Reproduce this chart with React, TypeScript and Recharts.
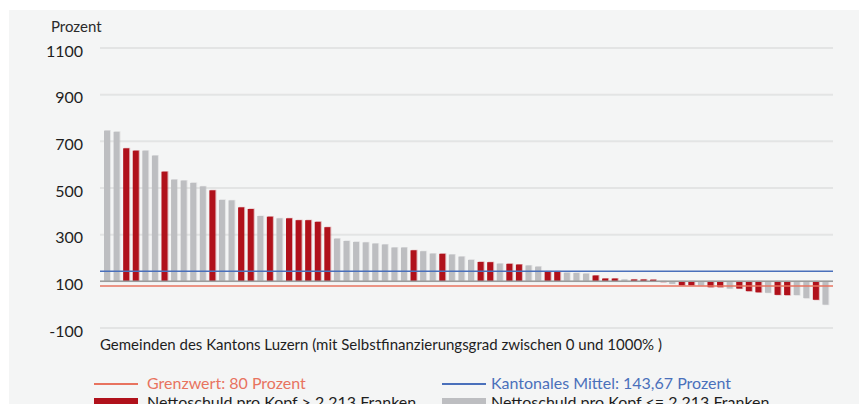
import React from 'react';
import { BarChart, Bar, Cell, XAxis, YAxis, CartesianGrid, ReferenceLine } from 'recharts';

// Selbstfinanzierungsgrad je Gemeinde (Prozent), absteigend sortiert
const values = [
  746, 741, 670, 660, 660, 639, 570, 536, 532, 522, 507, 490,
  449, 447, 417, 410, 380, 377, 370, 370, 362, 362, 355, 332,
  283, 273, 269, 267, 262, 258, 245, 245, 233, 229, 219, 218,
  215, 206, 192, 183, 182, 176, 175, 172, 168, 163, 143, 143,
  137, 136, 133, 125, 112, 112, 108, 108, 108, 107, 97, 89, 83, 83,
  82, 75, 75, 69, 69, 58, 53, 51, 42, 41, 41, 28, 21, 0,
];

// 1 = Nettoschuld pro Kopf > 2 213 Franken
const highDebt = [
  0, 0, 1, 1, 0, 0, 1, 0, 0, 0, 0, 1,
  0, 0, 1, 1, 0, 1, 0, 1, 1, 1, 1, 1,
  0, 0, 0, 0, 0, 0, 0, 0, 1, 0, 0, 1,
  0, 0, 0, 1, 1, 0, 1, 1, 0, 0, 1, 1,
  0, 0, 0, 1, 1, 1, 0, 1, 1, 1, 1, 0, 1, 1,
  0, 1, 1, 0, 1, 1, 1, 0, 1, 1, 0, 0, 1, 0,
];

const yTicks = [-100, 100, 300, 500, 700, 900, 1100];
const baseline = 100;
const grenzwert = 80;
const kantonsMittel = 143.67;

const RED = '#b0111b';
const GRAY = '#bdbec1';
const LINE_RED = '#e8735f';
const LINE_BLUE = '#4a70bb';
const FONT = 'Lato, "Open Sans", sans-serif';

const data = values.map((v, i) => ({
  name: `G${i + 1}`,
  value: v,
  high: highDebt[i] === 1,
}));

const BarShape = (props: any) => {
  const { x, y, width, height, fill } = props;
  if (width == null || height == null) return null;
  return (
    <g>
      <rect x={x + 1} y={y - 0.5} width={width} height={height + 1} fill={fill} opacity={0.3} />
      <rect x={x} y={y} width={width} height={height} fill={fill} />
    </g>
  );
};

const YTick = (props: any) => {
  const { y, payload } = props;
  return (
    <text x={83} y={y + 3} dy="0.35em" textAnchor="end" fontSize={16} fill="#1e1e1e" fontFamily={FONT}>
      {payload.value}
    </text>
  );
};

export default function App() {
  return (
    <div style={{ margin: -8, width: 867, height: 412, position: 'relative', overflow: 'hidden', background: '#fff', fontFamily: FONT }}>
      <div style={{ position: 'absolute', left: 9, top: 10, right: 0, bottom: 0, background: '#f4f5f5' }} />
      <div style={{ position: 'absolute', left: 51, top: 17, fontSize: 15, color: '#2a2a2a' }}>Prozent</div>

      <div style={{ position: 'absolute', left: 0, top: 0 }}>
        <BarChart width={867} height={412} data={data} margin={{ top: 48, right: 34, bottom: 84, left: 0 }} barSize={6}>
          <CartesianGrid horizontal vertical={false} stroke="#e3e4e4" strokeWidth={2} />
          <XAxis dataKey="name" hide padding={{ left: 2, right: 3 }} />
          <YAxis
            width={100}
            domain={[-100, 1100]}
            ticks={yTicks}
            axisLine={false}
            tickLine={false}
            tick={<YTick />}
            interval={0}
          />
          <ReferenceLine y={baseline} stroke="#9c9c9c" strokeWidth={1.5} />
          <Bar
            dataKey={(d: any) => [Math.min(baseline, d.value), Math.max(baseline, d.value)]}
            isAnimationActive={false}
            shape={<BarShape />}
          >
            {data.map((d) => (
              <Cell key={d.name} fill={d.high ? RED : GRAY} />
            ))}
          </Bar>
          <ReferenceLine y={kantonsMittel} stroke={LINE_BLUE} strokeWidth={1.5} />
          <ReferenceLine y={grenzwert} stroke={LINE_RED} strokeWidth={1.5} />
        </BarChart>
      </div>

      <div style={{ position: 'absolute', left: 100, top: 335, fontSize: 15, color: '#1e1e1e', whiteSpace: 'nowrap' }}>
        Gemeinden des Kantons Luzern (mit Selbstfinanzierungsgrad zwischen 0 und 1000% )
      </div>

      {/* Legende */}
      <div style={{ position: 'absolute', left: 94, top: 383, width: 44, height: 1.5, background: LINE_RED }} />
      <div style={{ position: 'absolute', left: 147, top: 373, fontSize: 16, lineHeight: '19px', color: LINE_RED, whiteSpace: 'nowrap' }}>
        Grenzwert: 80 Prozent
      </div>
      <div style={{ position: 'absolute', left: 442, top: 383, width: 44, height: 1.5, background: LINE_BLUE }} />
      <div style={{ position: 'absolute', left: 491, top: 373, fontSize: 16, lineHeight: '19px', color: LINE_BLUE, whiteSpace: 'nowrap' }}>
        Kantonales Mittel: 143,67 Prozent
      </div>
      <div style={{ position: 'absolute', left: 94, top: 398, width: 44, height: 11, background: RED }} />
      <div style={{ position: 'absolute', left: 147, top: 392, fontSize: 16, lineHeight: '19px', color: '#1e1e1e', whiteSpace: 'nowrap' }}>
        Nettoschuld pro Kopf &gt; 2 213 Franken
      </div>
      <div style={{ position: 'absolute', left: 442, top: 398, width: 44, height: 11, background: GRAY }} />
      <div style={{ position: 'absolute', left: 491, top: 392, fontSize: 16, lineHeight: '19px', color: '#1e1e1e', whiteSpace: 'nowrap' }}>
        Nettoschuld pro Kopf &lt;= 2 213 Franken
      </div>
    </div>
  );
}
